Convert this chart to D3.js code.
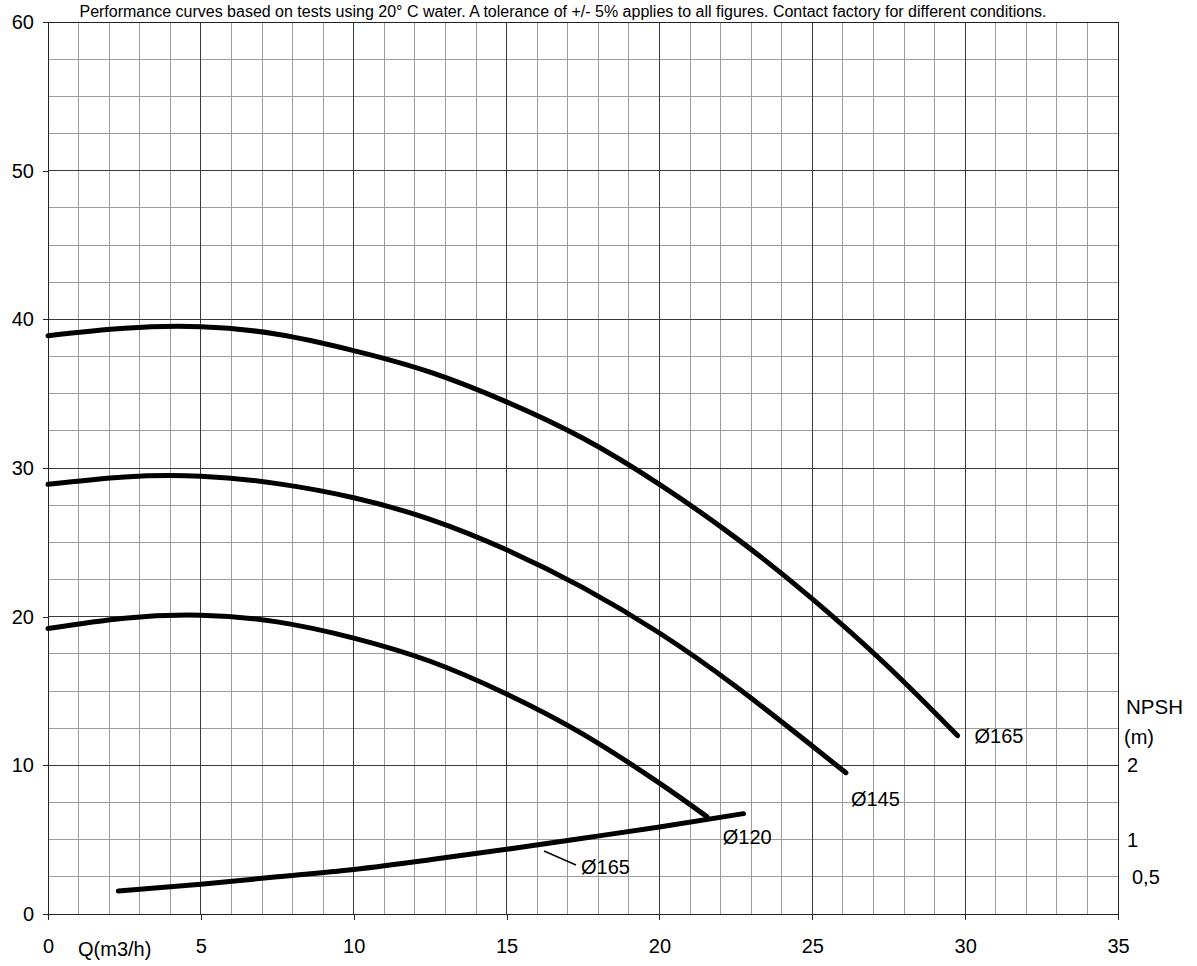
<!DOCTYPE html>
<html lang="en">
    <head>
        <meta charset="utf-8">
        <title>Pump curves</title>
        <script type="text/javascript" src="https://cdnjs.cloudflare.com/ajax/libs/d3/7.8.5/d3.min.js"></script>
        <style>
            body { margin: 0; background: #fff; }
            text { font-family: "Liberation Sans", Arial, sans-serif; fill: #000; }
        </style>
    </head>
    <body>
        <script type="text/javascript">
// head curves, Q in m3/h, H in m
var q165 = [0, 2.5, 5, 7.5, 10, 12.5, 15, 17.5, 20, 22.5, 25, 27.5, 29.75];
var h165 = [38.9, 39.4, 39.5, 39.0, 37.9, 36.45, 34.45, 32.0, 28.9, 25.3, 21.2, 16.6, 12.0];

var q145 = [0, 2.5, 5, 7.5, 10, 12.5, 15, 17.5, 20, 22.5, 25, 26.1];
var h145 = [28.9, 29.4, 29.45, 28.95, 28.0, 26.55, 24.5, 21.95, 18.9, 15.3, 11.3, 9.5];

var q120 = [0, 2.5, 5, 7.5, 10, 12.5, 15, 17.5, 20, 21.55];
var h120 = [19.2, 19.9, 20.1, 19.65, 18.56, 17.0, 14.8, 12.1, 8.8, 6.55];

// NPSH curve (m), read on the right hand axis
var qNpsh = [2.3, 5, 7.5, 10, 12.5, 15, 17.5, 20, 22.75];
var npsh = [0.31, 0.40, 0.50, 0.60, 0.73, 0.87, 1.02, 1.17, 1.35];

var xTicks = [0, 5, 10, 15, 20, 25, 30, 35];
var yTicks = [0, 10, 20, 30, 40, 50, 60];
var npshTicks = [2, 1, 0.5];
var npshTickLabels = ["2", "1", "0,5"];

var title = "Performance curves based on tests using 20\u00b0 C water. A tolerance of +/- 5% applies to all figures. Contact factory for different conditions.";

var w = 1197;
var h = 966;
var pLeft = 48, pTop = 22, pRight = 1118, pBottom = 914;

var svg = d3.select("body")
.append("svg")
.attr("width", w)
.attr("height", h);

var x = d3.scaleLinear().domain([0, 35]).range([pLeft, pRight]);
var y = d3.scaleLinear().domain([0, 60]).range([pBottom, pTop]);
// NPSH axis: 2 m sits on the 10 m head line
var yN = d3.scaleLinear().domain([0, 2]).range([pBottom, y(10)]);

// grid
var minorX = d3.range(1, 35).filter(function(d) { return d % 5 != 0; });
var minorY = d3.range(2.5, 60, 2.5).filter(function(d) { return d % 10 != 0; });
var majorX = [5, 10, 15, 20, 25, 30];
var majorY = [10, 20, 30, 40, 50];

var grid = svg.append("g");
grid.selectAll(".mx").data(minorX).enter().append("line")
  .attr("x1", x).attr("x2", x).attr("y1", pTop).attr("y2", pBottom)
  .attr("stroke", "#9c9c9c").attr("stroke-width", 1).attr("shape-rendering", "crispEdges");
grid.selectAll(".my").data(minorY).enter().append("line")
  .attr("y1", y).attr("y2", y).attr("x1", pLeft).attr("x2", pRight)
  .attr("stroke", "#9c9c9c").attr("stroke-width", 1).attr("shape-rendering", "crispEdges");
grid.selectAll(".Mx").data(majorX).enter().append("line")
  .attr("x1", x).attr("x2", x).attr("y1", pTop).attr("y2", pBottom)
  .attr("stroke", "#3a3a3a").attr("stroke-width", 1).attr("shape-rendering", "crispEdges");
grid.selectAll(".My").data(majorY).enter().append("line")
  .attr("y1", y).attr("y2", y).attr("x1", pLeft).attr("x2", pRight)
  .attr("stroke", "#3a3a3a").attr("stroke-width", 1).attr("shape-rendering", "crispEdges");

svg.append("rect")
  .attr("x", pLeft).attr("y", pTop)
  .attr("width", pRight - pLeft).attr("height", pBottom - pTop)
  .attr("fill", "none").attr("stroke", "#222").attr("stroke-width", 1)
  .attr("shape-rendering", "crispEdges");

// axes
var yAxis = svg.append("g")
  .attr("transform", "translate(" + pLeft + ",0)")
  .call(d3.axisLeft(y).tickValues(yTicks).tickSize(5).tickPadding(9));
var xAxis = svg.append("g")
  .attr("transform", "translate(0," + pBottom + ")")
  .call(d3.axisBottom(x).tickValues(xTicks).tickSize(6).tickPadding(19));
[yAxis, xAxis].forEach(function(a) {
  a.select(".domain").remove();
  a.selectAll("line").attr("stroke", "#222").attr("shape-rendering", "crispEdges");
  a.selectAll("text").attr("font-size", 20).attr("font-family", "'Liberation Sans', Arial, sans-serif").attr("fill", "#000");
});

svg.append("text")
  .attr("x", 78).attr("y", 956)
  .attr("font-size", 20)
  .text("Q(m3/h)");

// NPSH axis labels
svg.selectAll(".npt").data(npshTicks).enter().append("text")
  .attr("x", function(d, i) { return i == 2 ? 1132 : 1127; })
  .attr("y", function(d) { return yN(d) + 7; })
  .attr("font-size", 20)
  .text(function(d, i) { return npshTickLabels[i]; });
svg.append("text").attr("x", 1126).attr("y", 714).attr("font-size", 20.5).text("NPSH");
svg.append("text").attr("x", 1124).attr("y", 744).attr("font-size", 20).text("(m)");

svg.append("text")
  .attr("x", 563).attr("y", 17)
  .attr("text-anchor", "middle")
  .attr("font-size", 16)
  .text(title);

// curves
var line = d3.line()
  .x(function(d) { return x(d[0]); })
  .y(function(d) { return y(d[1]); })
  .curve(d3.curveNatural);
var npshLine = d3.line()
  .x(function(d) { return x(d[0]); })
  .y(function(d) { return yN(d[1]); })
  .curve(d3.curveNatural);

var curves = [d3.zip(q165, h165), d3.zip(q145, h145), d3.zip(q120, h120)];
svg.selectAll(".hq").data(curves).enter().append("path")
  .attr("d", line)
  .attr("fill", "none").attr("stroke", "#000").attr("stroke-width", 5)
  .attr("stroke-linecap", "round").attr("stroke-linejoin", "round");

svg.append("path")
  .attr("d", npshLine(d3.zip(qNpsh, npsh)))
  .attr("fill", "none").attr("stroke", "#000").attr("stroke-width", 5)
  .attr("stroke-linecap", "round");

// curve labels
var lab = [
  {t: "\u00d8165", q: q165[q165.length - 1], v: h165[h165.length - 1], dx: 17, dy: 7},
  {t: "\u00d8145", q: q145[q145.length - 1], v: h145[h145.length - 1], dx: 5, dy: 33},
  {t: "\u00d8120", q: q120[q120.length - 1], v: h120[h120.length - 1], dx: 16, dy: 27}
];
svg.selectAll(".lab").data(lab).enter().append("text")
  .attr("x", function(d) { return x(d.q) + d.dx; })
  .attr("y", function(d) { return y(d.v) + d.dy; })
  .attr("font-size", 20)
  .text(function(d) { return d.t; });

// NPSH curve label with leader
svg.append("line")
  .attr("x1", 544).attr("y1", 851).attr("x2", 576).attr("y2", 865)
  .attr("stroke", "#000").attr("stroke-width", 1.5);
svg.append("text").attr("x", 581).attr("y", 874).attr("font-size", 20).text("\u00d8165");
        </script>
    </body>
</html>
